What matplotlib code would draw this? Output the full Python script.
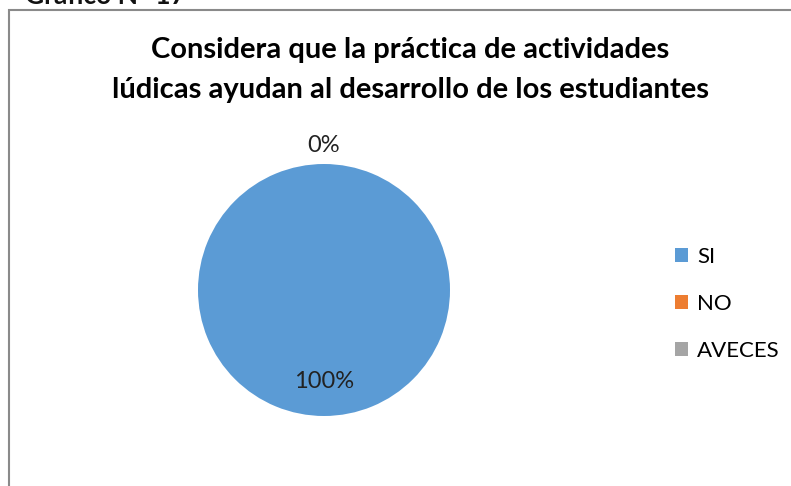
import matplotlib.pyplot as plt
from matplotlib.patches import Rectangle
import numpy as np

plt.rcParams['font.family'] = ['Lato', 'DejaVu Sans']

categorias = ['SI', 'NO', 'AVECES']
valores = [100, 0, 0]
colores = ['#5B9BD5', '#ED7D31', '#A5A5A5']
linea1 = 'Considera que la práctica de actividades'
linea2 = 'lúdicas ayudan al desarrollo de los estudiantes'

W, H = 791, 486
fig = plt.figure(figsize=(W / 100, H / 100), dpi=100)

# encabezado cortado arriba
fig.text(25 / W, 1 - 4 / H, 'Gráfico N° 17', fontsize=19, fontweight='bold',
         ha='left', va='baseline', color='#111111')

# borde del area del grafico
fig.patches.append(Rectangle((8.5 / W, -0.1), 1.2, 1 - 10 / H + 0.1,
                             transform=fig.transFigure, fill=False,
                             edgecolor='#8a8a8a', lw=1.5))

fig.text(410 / W, 1 - 50 / H, linea1, ha='center', va='center',
         fontsize=21, fontweight='bold')
fig.text(410 / W, 1 - 90 / H, linea2, ha='center', va='center',
         fontsize=21, fontweight='bold')

cx, cy, r = 324, 290, 126
ax = fig.add_axes([(cx - r) / W, (H - cy - r) / H, 2 * r / W, 2 * r / H])
wedges, _ = ax.pie(valores, colors=colores, startangle=90, counterclock=False,
                   radius=1, wedgeprops=dict(linewidth=0))
ax.set_xlim(-1, 1)
ax.set_ylim(-1, 1)
ax.set_aspect('equal')
ax.axis('off')

total = sum(valores)
vistos = set()
for w, v in zip(wedges, valores):
    ang = np.deg2rad((w.theta1 + w.theta2) / 2)
    d = 0.73 if v > 0 else 1.15
    pos = (round(d * np.cos(ang), 3), round(d * np.sin(ang), 3))
    if pos in vistos:
        continue
    vistos.add(pos)
    ax.text(pos[0], pos[1], f'{v / total * 100:.0f}%', ha='center', va='center',
            fontsize=17, color='#222222')

fig.legend(wedges, categorias, loc='upper left',
           bbox_to_anchor=(675 / W, 1 - 247 / H), frameon=False,
           fontsize=16, handlelength=0.6, handleheight=0.6,
           handletextpad=0.4, labelspacing=1.22, borderpad=0, borderaxespad=0)

fig.savefig('out.png', dpi=100)
